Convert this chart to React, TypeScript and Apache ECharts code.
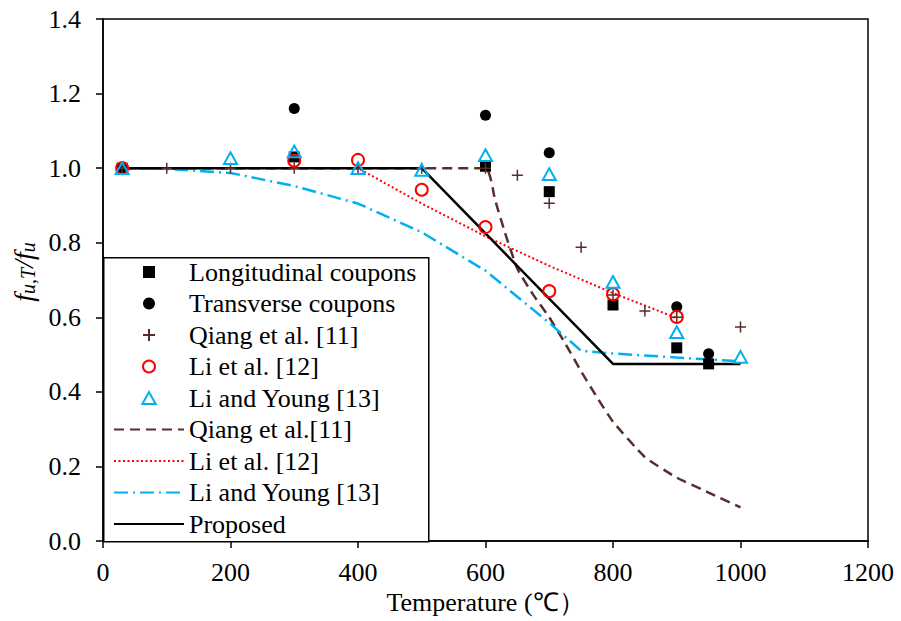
import React, { useEffect, useRef } from "react";
import * as echarts from "echarts";

// Test data [temperature, ratio]
const longitudinalCoupons: number[][] = [[30, 1.0], [300, 1.03], [600, 1.005], [700, 0.937], [800, 0.633], [900, 0.518], [950, 0.475]];
const transverseCoupons: number[][] = [[30, 1.0], [300, 1.16], [600, 1.142], [700, 1.041], [900, 0.628], [950, 0.502]];
const qiangTests: number[][] = [[30, 1.0], [100, 1.0], [200, 1.0], [300, 1.0], [400, 1.0], [500, 1.0], [600, 1.0], [650, 0.981], [700, 0.906], [750, 0.788], [800, 0.66], [850, 0.617], [900, 0.6], [1000, 0.574]];
const liTests: number[][] = [[30, 1.0], [300, 1.02], [400, 1.022], [500, 0.942], [600, 0.842], [700, 0.67], [800, 0.662], [900, 0.601]];
const liYoungTests: number[][] = [[30, 1.0], [200, 1.027], [300, 1.045], [400, 1.0], [500, 0.995], [600, 1.035], [700, 0.984], [800, 0.695], [900, 0.56], [1000, 0.494]];

// Model curves
const qiangModel: number[][] = [[30, 1.0], [600, 1.0], [615, 0.915], [630, 0.83], [650, 0.73], [675, 0.66], [700, 0.6], [725, 0.53], [750, 0.455], [775, 0.385], [800, 0.32], [850, 0.225], [900, 0.17], [950, 0.13], [1000, 0.09]];
const liModel: number[][] = [[30, 1.0], [400, 1.0], [500, 0.905], [600, 0.817], [700, 0.738], [800, 0.665], [900, 0.598]];
const liYoungModel: number[][] = [[30, 1.0], [100, 0.998], [200, 0.987], [300, 0.952], [400, 0.905], [500, 0.828], [600, 0.725], [700, 0.585], [750, 0.51], [800, 0.503], [900, 0.492], [1000, 0.482]];
const proposedModel: number[][] = [[30, 1.0], [500, 1.0], [800, 0.475], [1000, 0.475]];

const legendNames: string[] = [
  "Longitudinal coupons", "Transverse coupons", "Qiang et al. [11]", "Li et al. [12]", "Li and Young [13]",
  "Qiang et al.[11]", "Li et al. [12] ", "Li and Young [13] ", "Proposed",
];

const FONT = "Liberation Serif";
const FS = 26;
const BROWN = "#5a2d2d";
const RED = "#ff0000";
const BLUE = "#00b0f0";

const SQUARE = "path://M0,0L10,0L10,10L0,10Z";
const TRIANGLE = "path://M5,0L10,9L0,9Z";
const PLUS = "path://M5,0L5,10M0,5L10,5";

export default function App() {
  const ref = useRef<HTMLDivElement>(null);
  useEffect(() => {
    if (!ref.current) return;
    const chart = echarts.init(ref.current, undefined, { renderer: "svg" });
    chart.setOption({
      animation: false,
      backgroundColor: "#fff",
      textStyle: { fontFamily: FONT },
      grid: { left: 103, right: 33, top: 19, bottom: 80, show: true, borderColor: "#000", borderWidth: 1.5, backgroundColor: "transparent" },
      xAxis: {
        type: "value", min: 0, max: 1200, interval: 200,
        name: "Temperature (℃）", nameLocation: "middle", nameGap: 44,
        nameTextStyle: { fontSize: FS, color: "#000", fontFamily: FONT },
        axisLine: { show: true, lineStyle: { color: "#000", width: 1.5 } },
        axisTick: { show: true, length: 7, lineStyle: { color: "#000", width: 1.5 } },
        axisLabel: { fontSize: FS, color: "#000", margin: 18, fontFamily: FONT, formatter: (v: number) => String(v) },
        splitLine: { show: false },
      },
      yAxis: {
        type: "value", min: 0, max: 1.4, interval: 0.2,
        name: "{i|f}{s|u,T}{i|/f}{s|u}", nameLocation: "middle", nameGap: 52,
        nameTextStyle: {
          color: "#000", fontFamily: FONT, padding: [0, 0, 0, 16],
          rich: {
            i: { fontSize: 28, fontStyle: "italic", fontFamily: FONT, color: "#000", verticalAlign: "bottom", lineHeight: 34 },
            s: { fontSize: 20, fontStyle: "italic", fontFamily: FONT, color: "#000", verticalAlign: "bottom", lineHeight: 16 },
          },
        },
        axisLine: { show: true, lineStyle: { color: "#000", width: 1.5 } },
        axisTick: { show: true, length: 7, lineStyle: { color: "#000", width: 1.5 } },
        axisLabel: { fontSize: FS, color: "#000", margin: 22, fontFamily: FONT, formatter: (v: number) => v.toFixed(1) },
        splitLine: { show: false },
      },
      graphic: [
        { type: "rect", left: 103, top: 257, z: 3, shape: { width: 325, height: 284 }, style: { fill: "#fff", stroke: "#000", lineWidth: 1.5 } },
      ],
      legend: {
        orient: "vertical", left: 113, top: 259, padding: 0, z: 5,
        itemWidth: 70, itemHeight: 12, itemGap: 5.5,
        symbolKeepAspect: true,
        textStyle: { fontSize: FS, lineHeight: FS, color: "#000", fontFamily: FONT },
        data: legendNames.map((n, i) => (i >= 5 ? { name: n, itemStyle: { opacity: 0 } } : { name: n })),
      },
      series: [
        { name: legendNames[5], type: "line", data: qiangModel, symbol: "none", smooth: 0.15, z: 2, lineStyle: { color: BROWN, width: 2.5, type: [10, 6] }, itemStyle: { color: BROWN } },
        { name: legendNames[6], type: "line", data: liModel, symbol: "none", z: 2, lineStyle: { color: RED, width: 2, type: [2, 2.5] }, itemStyle: { color: RED } },
        { name: legendNames[7], type: "line", data: liYoungModel, symbol: "none", z: 2, lineStyle: { color: BLUE, width: 2.5, type: [14, 5, 2, 5] }, itemStyle: { color: BLUE } },
        { name: legendNames[8], type: "line", data: proposedModel, symbol: "none", z: 2, lineStyle: { color: "#000", width: 2.5 }, itemStyle: { color: "#000" } },
        { name: legendNames[0], type: "scatter", data: longitudinalCoupons, symbol: SQUARE, symbolSize: 11, symbolKeepAspect: true, z: 3, itemStyle: { color: "#000", opacity: 1 } },
        { name: legendNames[1], type: "scatter", data: transverseCoupons, symbol: "circle", symbolSize: 11, z: 3, itemStyle: { color: "#000", opacity: 1 } },
        { name: legendNames[2], type: "scatter", data: qiangTests, symbol: PLUS, symbolSize: 11, symbolKeepAspect: true, z: 3, itemStyle: { color: "none", borderColor: BROWN, borderWidth: 1.5, opacity: 1 } },
        { name: legendNames[3], type: "scatter", data: liTests, symbol: "circle", symbolSize: 12, z: 3, itemStyle: { color: "none", borderColor: RED, borderWidth: 2, opacity: 1 } },
        { name: legendNames[4], type: "scatter", data: liYoungTests, symbol: TRIANGLE, symbolSize: 13, symbolKeepAspect: true, z: 3, itemStyle: { color: "none", borderColor: BLUE, borderWidth: 2, opacity: 1 } },
      ],
    });
    return () => chart.dispose();
  }, []);
  return <div ref={ref} style={{ width: 901, height: 621, position: "absolute", left: 0, top: 0 }} />;
}
